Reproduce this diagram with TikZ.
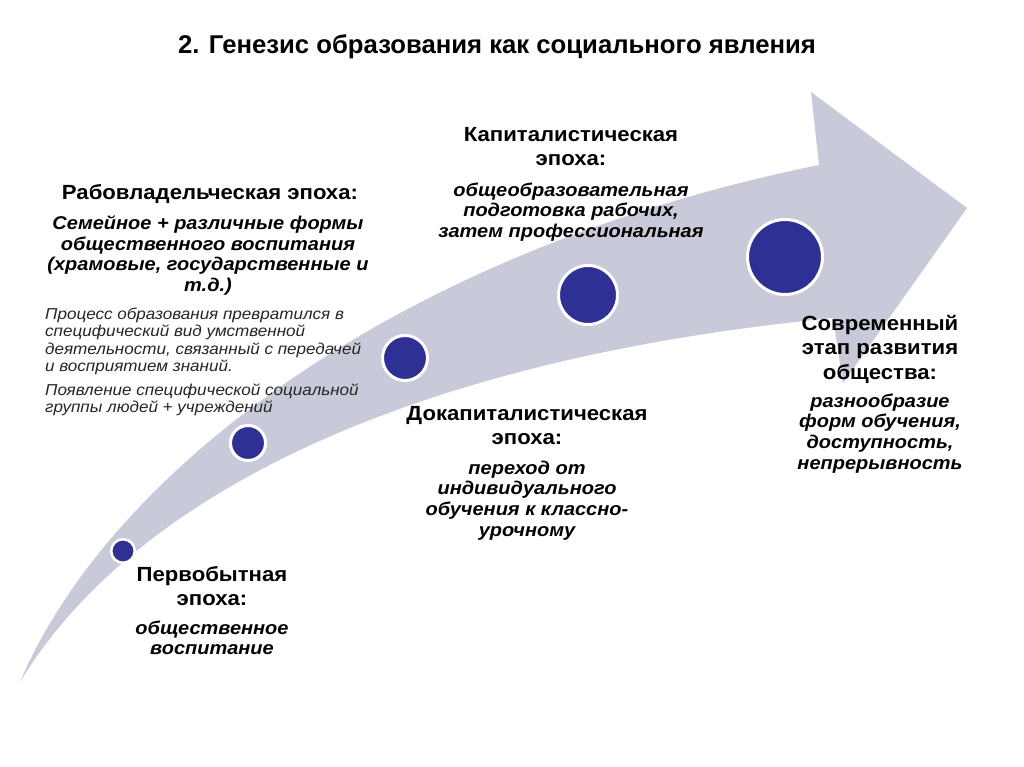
\documentclass[tikz,border=0pt]{standalone}
\usepackage{fontspec}
\setmainfont{Liberation Sans}[FakeStretch=1.08]
\newfontfamily\titlefont{Liberation Sans}
\definecolor{arrowgrey}{HTML}{C9CAD9}
\definecolor{dotblue}{HTML}{2F3094}

\begin{document}
\begin{tikzpicture}[x=1pt, y=-1pt,
    era/.style={align=center, font=\bfseries\fontsize{20.5}{24.5}\selectfont, inner sep=0pt},
    gist/.style={align=center, font=\bfseries\itshape\fontsize{18.5}{20.7}\selectfont, inner sep=0pt},
    note/.style={align=left, font=\itshape\fontsize{15.8}{17.4}\selectfont, inner sep=0pt, text=black!85},
    dot/.style={circle, fill=dotblue, draw=white, inner sep=0pt}]
    \fill[white] (0,0) rectangle (1024,767);
    \useasboundingbox (0,0) rectangle (1024,767);
    % curved arrow
    \fill[arrowgrey] (20,682) .. controls (110,470) and (400,250) .. (819,165) -- (811,92) -- (967,208)
        -- (843,383) -- (833,318) .. controls (400,360) and (130,500) .. (20,682) -- cycle;
    % stages
    \node[dot, minimum size=23.5pt, line width=2.5pt] (p1) at (123,551) {};
    \node[dot, minimum size=35pt, line width=3pt] (p2) at (248,443) {};
    \node[dot, minimum size=45pt, line width=3pt] (p3) at (405,358) {};
    \node[dot, minimum size=59pt, line width=3pt] (p4) at (588,295) {};
    \node[dot, minimum size=75pt, line width=3pt] (p5) at (785,257) {};
    % title
    \node[font=\titlefont\bfseries\fontsize{25.7}{30}\selectfont] (title) at (497,47) {2. Генезис образования как социального явления};
    % texts
    \node[era, anchor=north] (e1) at (212,566) {Первобытная\\эпоха:};
    \node[gist, anchor=north] (g1) at (212,620.5) {общественное\\воспитание};
    \node[era, anchor=north] (e2) at (210,184) {Рабовладельческая эпоха:};
    \node[gist, anchor=north] (g2) at (208,215.5) {Семейное + различные формы\\общественного воспитания\\(храмовые, государственные и\\т.д.)};
    \node[note, anchor=north west] (n1) at (45,307.5) {Процесс образования превратился в\\специфический вид умственной\\деятельности, связанный с передачей\\и восприятием знаний.};
    \node[note, anchor=north west] (n2) at (45,383.5) {Появление специфической социальной\\группы людей + учреждений};
    \node[era, anchor=north] (e3) at (527,406) {Докапиталистическая\\эпоха:};
    \node[gist, anchor=north] (g3) at (527,460.5) {переход от\\индивидуального\\обучения к классно-\\урочному};
    \node[era, anchor=north] (e4) at (571,127) {Капиталистическая\\эпоха:};
    \node[gist, anchor=north] (g4) at (571,182.5) {общеобразовательная\\подготовка рабочих,\\затем профессиональная};
    \node[era, anchor=north] (e5) at (880,315) {Современный\\этап развития\\общества:};
    \node[gist, anchor=north] (g5) at (880,393.5) {разнообразие\\форм обучения,\\доступность,\\непрерывность};
\end{tikzpicture}
\end{document}
